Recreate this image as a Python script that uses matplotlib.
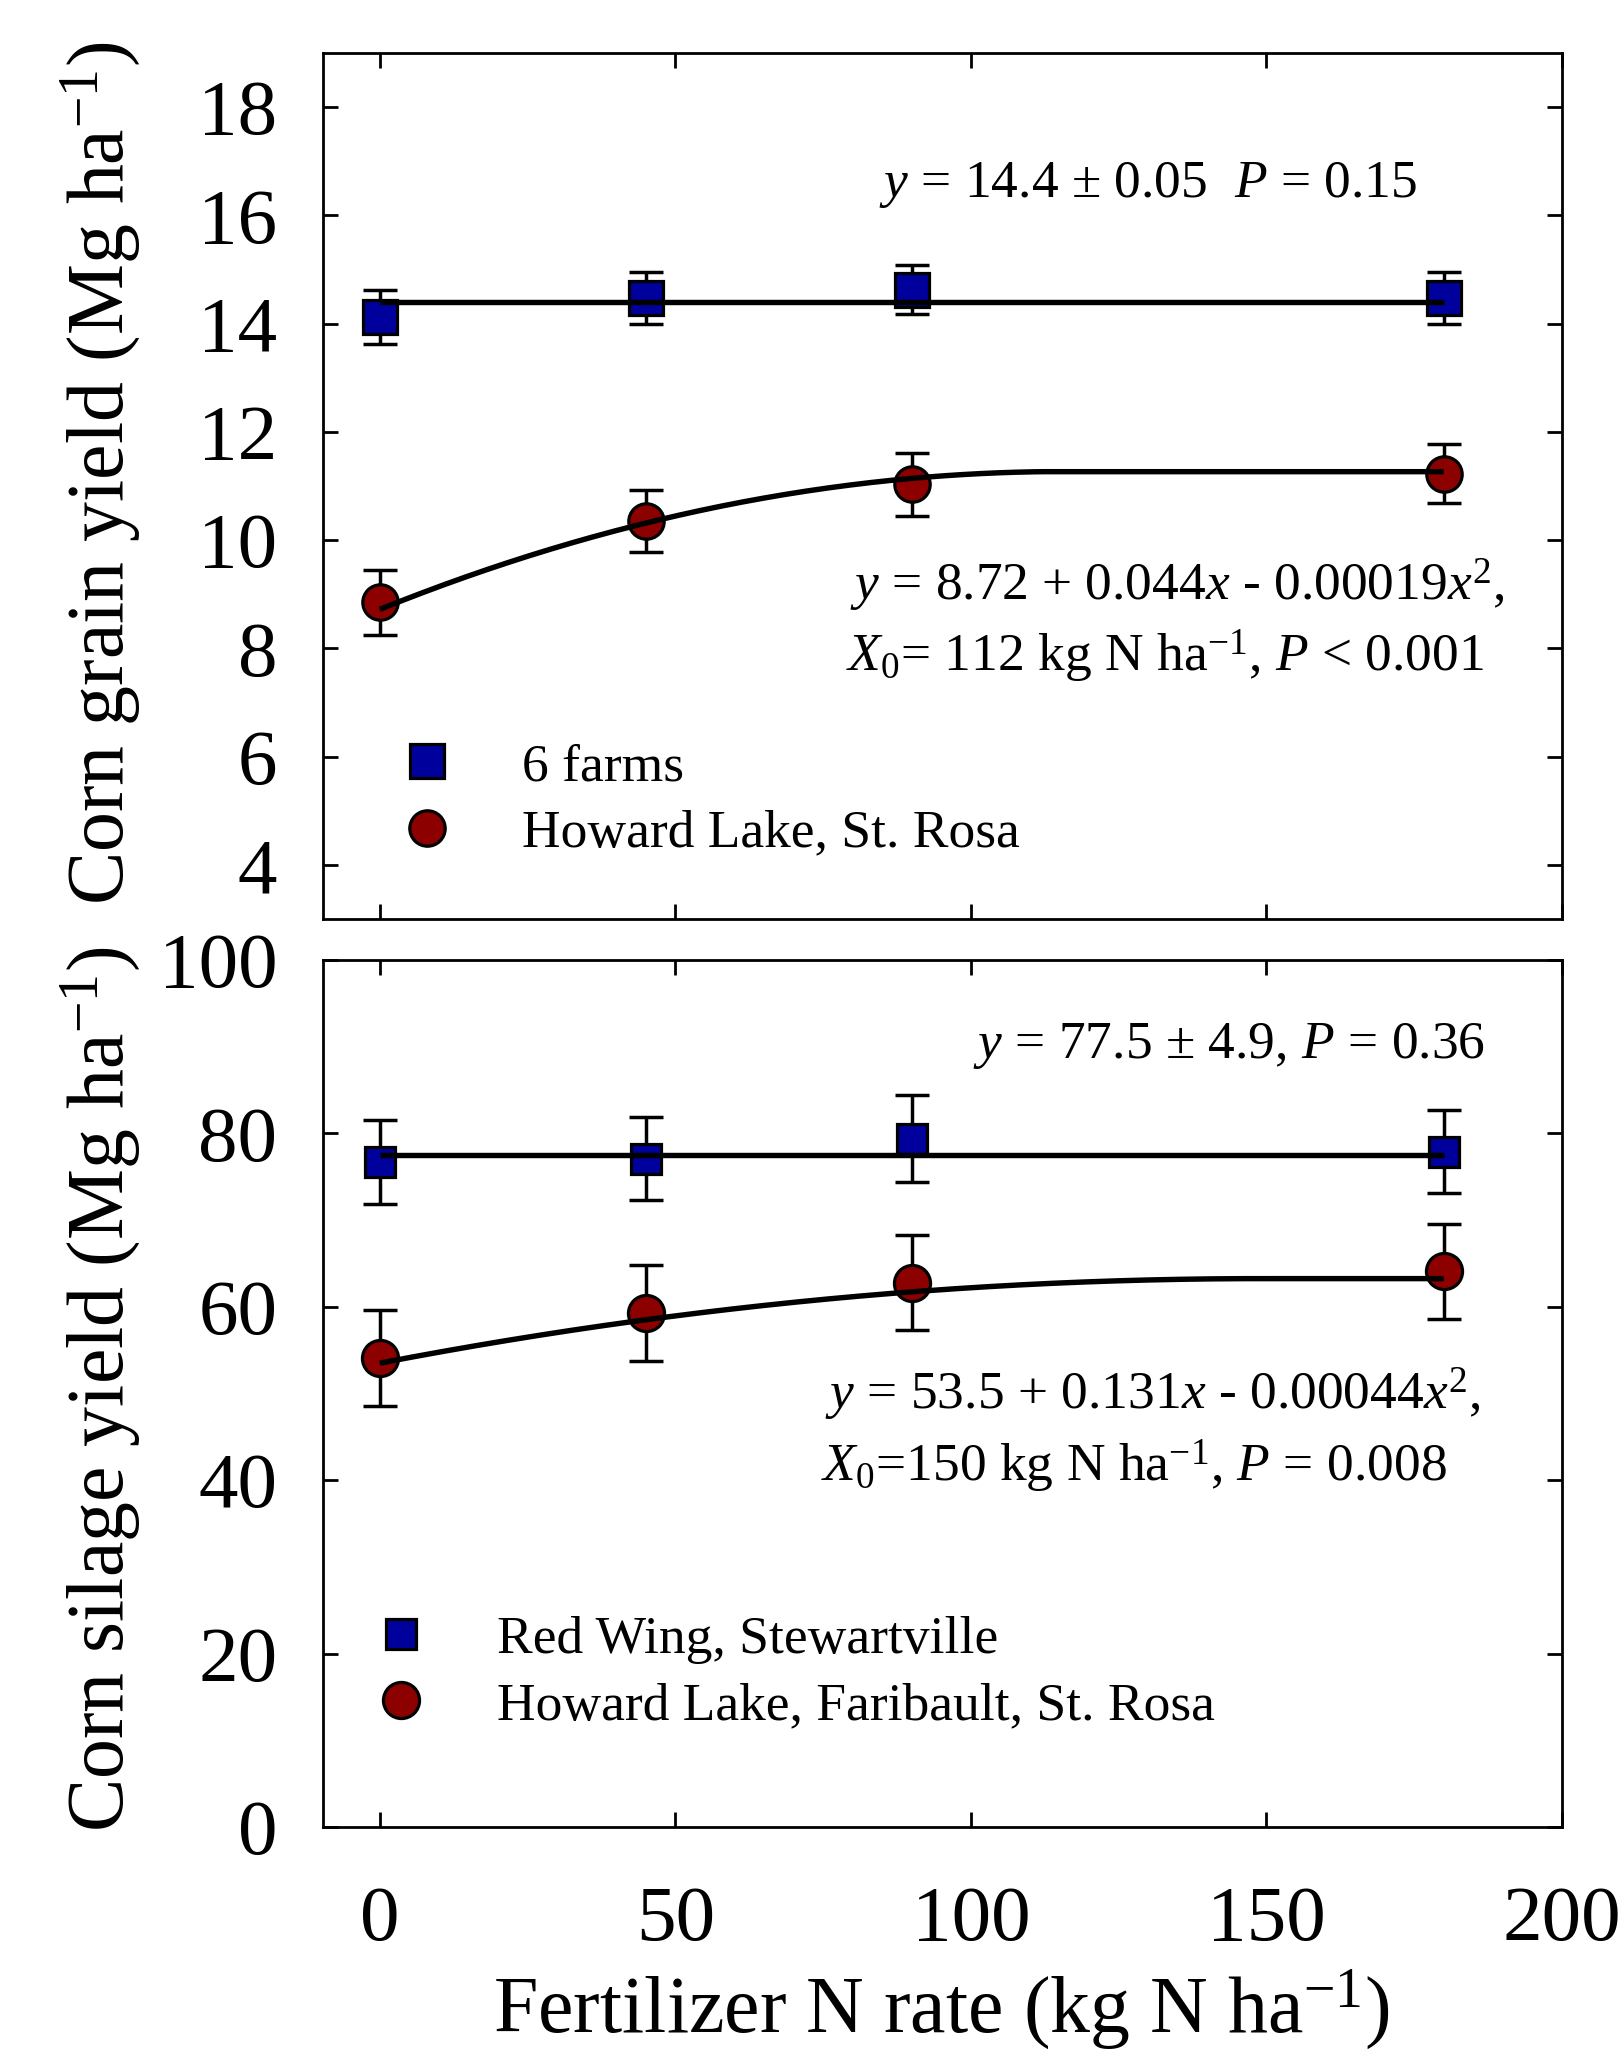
import numpy as np
import matplotlib
matplotlib.use("Agg")
import matplotlib.pyplot as plt
from matplotlib.lines import Line2D

plt.rcParams['font.family'] = ['Liberation Serif', 'DejaVu Serif']
plt.rcParams['mathtext.fontset'] = 'custom'
plt.rcParams['mathtext.rm'] = 'Liberation Serif'
plt.rcParams['mathtext.it'] = 'Liberation Serif:italic'
plt.rcParams['mathtext.bf'] = 'Liberation Serif:bold'
plt.rcParams['mathtext.default'] = 'rm'

# ---------------- data ----------------
n_rate = [0, 45, 90, 180]

grain_six_farms = [14.13, 14.47, 14.63, 14.47]
grain_six_farms_err = [0.50, 0.48, 0.46, 0.48]
grain_howard = [8.85, 10.35, 11.03, 11.23]
grain_howard_err = [0.60, 0.57, 0.58, 0.55]

silage_redwing = [76.7, 77.1, 79.4, 77.9]
silage_redwing_err = [4.8, 4.8, 5.0, 4.8]
silage_howard = [54.1, 59.3, 62.8, 64.1]
silage_howard_err = [5.5, 5.5, 5.5, 5.5]

# fitted models as reported on the chart
grain_mean = 14.4
grain_quad = [8.72, 0.044, -0.00019]
grain_x0 = 112
silage_mean = 77.5
silage_quad = [53.5, 0.131, -0.00044]
silage_x0 = 150

top_legend = ['6 farms', 'Howard Lake, St. Rosa']
bottom_legend = ['Red Wing, Stewartville', 'Howard Lake, Faribault, St. Rosa']

top_eq1 = r'$\mathit{y}$ = 14.4 ± 0.05  $\mathit{P}$ = 0.15'
top_eq2 = r'$\mathit{y}$ = 8.72 + 0.044$\mathit{x}$ - 0.00019$\mathit{x}^2$,'
top_eq3 = r'$\mathit{X}_0$= 112 kg N ha$^{-1}$, $\mathit{P}$ < 0.001'
bot_eq1 = r'$\mathit{y}$ = 77.5 ± 4.9, $\mathit{P}$ = 0.36'
bot_eq2 = r'$\mathit{y}$ = 53.5 + 0.131$\mathit{x}$ - 0.00044$\mathit{x}^2$,'
bot_eq3 = r'$\mathit{X}_0$=150 kg N ha$^{-1}$, $\mathit{P}$ = 0.008'

xticks = [0, 50, 100, 150, 200]
top_yticks = [4, 6, 8, 10, 12, 14, 16, 18]
bot_yticks = [0, 20, 40, 60, 80, 100]

# ---------------- style ----------------
BLUE = '#00009c'
RED = '#8c0000'
W, H = 1623, 2052
fig = plt.figure(figsize=(W / 100, H / 100), dpi=100)

def ax_rect(l, r, t, b):
    return [l / W, 1 - b / H, (r - l) / W, (b - t) / H]

ax1 = fig.add_axes(ax_rect(323, 1562, 53, 919))
ax2 = fig.add_axes(ax_rect(323, 1562, 960, 1827))

TICK_FS = 57
ANN_FS = 38.5
LAB_FS = 57.5


def plateau_quad(coefs, x0, xs):
    xs = np.asarray(xs, dtype=float)
    xc = np.minimum(xs, x0)
    return coefs[0] + coefs[1] * xc + coefs[2] * xc ** 2


def draw_panel(ax, sq, sq_err, ci, ci_err, mean, coefs, x0, sq_ms, ci_ms):
    ax.errorbar(n_rate, sq, yerr=sq_err, fmt='none', ecolor='black',
                elinewidth=2.5, capsize=12.5, capthick=2.5, zorder=2)
    ax.errorbar(n_rate, ci, yerr=ci_err, fmt='none', ecolor='black',
                elinewidth=2.5, capsize=12.5, capthick=2.5, zorder=2)
    ax.plot(n_rate, sq, linestyle='none', marker='s', ms=sq_ms,
            mfc=BLUE, mec='black', mew=2.3, zorder=3)
    ax.plot(n_rate, ci, linestyle='none', marker='o', ms=ci_ms,
            mfc=RED, mec='black', mew=2.3, zorder=3)
    xs = np.linspace(n_rate[0], n_rate[-1], 300)
    ax.plot([n_rate[0], n_rate[-1]], [mean, mean], color='black', lw=3.9,
            zorder=4, solid_capstyle='butt')
    ax.plot(xs, plateau_quad(coefs, x0, xs), color='black', lw=3.9, zorder=4,
            solid_capstyle='butt')
    ax.set_xlim(-9.6, 200)
    ax.set_xticks(xticks)
    for s in ax.spines.values():
        s.set_linewidth(2.0)
    ax.tick_params(direction='in', length=11, width=2.0, top=True, right=True,
                   labelsize=TICK_FS)


draw_panel(ax1, grain_six_farms, grain_six_farms_err, grain_howard,
           grain_howard_err, grain_mean, grain_quad, grain_x0, 24, 25.5)
ax1.set_ylim(3, 19)
ax1.set_yticks(top_yticks)
ax1.tick_params(axis='x', labelbottom=False)
ax1.tick_params(axis='y', pad=33)

draw_panel(ax2, silage_redwing, silage_redwing_err, silage_howard,
           silage_howard_err, silage_mean, silage_quad, silage_x0, 21.5, 26)
ax2.set_ylim(0, 100)
ax2.set_yticks(bot_yticks)
ax2.tick_params(axis='y', pad=33)
ax2.tick_params(axis='x', pad=42)

# annotations
ax1.text(84.4, 16.34, top_eq1, fontsize=ANN_FS, va='baseline', ha='left')
ax1.text(79.5, 8.89, top_eq2, fontsize=ANN_FS, va='baseline', ha='left')
ax1.text(78.8, 7.58, top_eq3, fontsize=ANN_FS, va='baseline', ha='left')
ax2.text(100.3, 88.7, bot_eq1, fontsize=ANN_FS, va='baseline', ha='left')
ax2.text(75.3, 48.1, bot_eq2, fontsize=ANN_FS, va='baseline', ha='left')
ax2.text(74.6, 39.8, bot_eq3, fontsize=ANN_FS, va='baseline', ha='left')

# legends
def legend_handles(sq_ms, ci_ms):
    return [Line2D([], [], linestyle='none', marker='s', ms=sq_ms, mfc=BLUE,
                   mec='black', mew=2.3),
            Line2D([], [], linestyle='none', marker='o', ms=ci_ms, mfc=RED,
                   mec='black', mew=2.3)]

ax1.legend(legend_handles(24, 25.5), top_legend, loc='center left',
           bbox_to_anchor=(0.0625, 0.1374), frameon=False, fontsize=ANN_FS,
           handlelength=1.0, handletextpad=1.28, borderpad=0, borderaxespad=0,
           labelspacing=0.33)
ax2.legend(legend_handles(21.5, 26), bottom_legend, loc='center left',
           bbox_to_anchor=(0.0417, 0.178), frameon=False, fontsize=ANN_FS,
           handlelength=1.0, handletextpad=1.29, borderpad=0, borderaxespad=0,
           labelspacing=0.33)

# axis labels
fig.text(101 / W, 1 - 473 / H, r'Corn grain yield (Mg ha$^{-1}$)',
         rotation=90, ha='center', va='center', fontsize=LAB_FS)
fig.text(101 / W, 1 - 1389 / H, r'Corn silage yield (Mg ha$^{-1}$)',
         rotation=90, ha='center', va='center', fontsize=LAB_FS)
fig.text(941 / W, 19 / H, r'Fertilizer N rate (kg N ha$^{-1}$)',
         ha='center', va='baseline', fontsize=LAB_FS)

fig.savefig('out.png', dpi=100)
